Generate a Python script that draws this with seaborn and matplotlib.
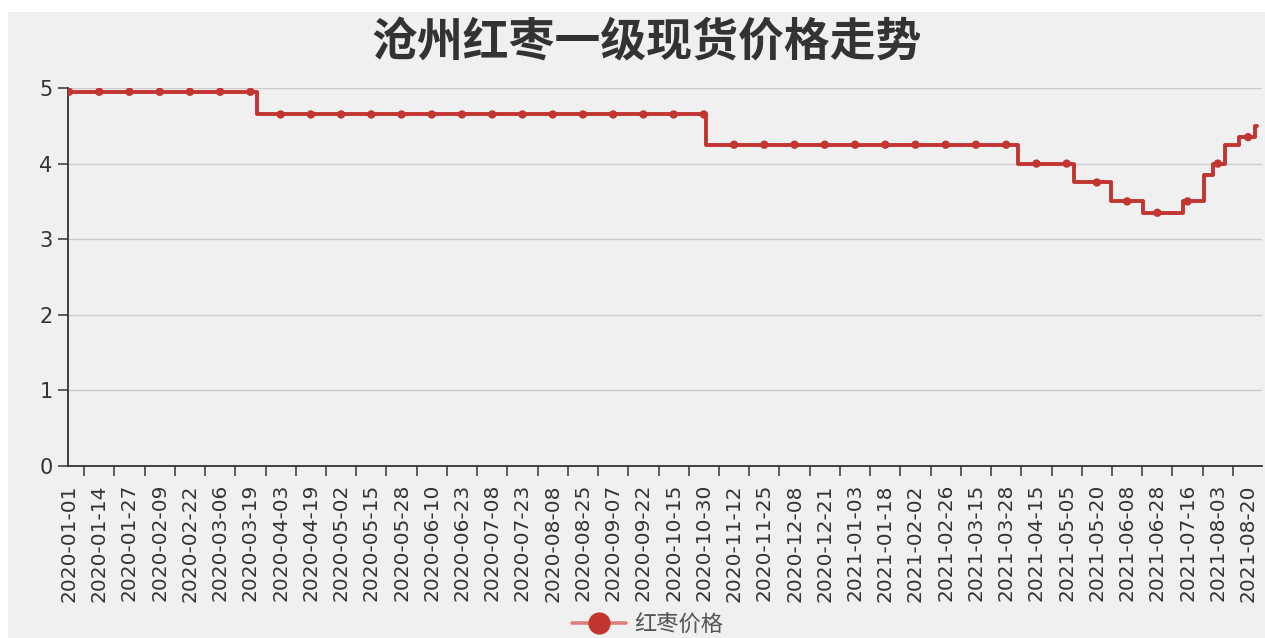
import numpy as np
import pandas as pd
import matplotlib
matplotlib.use("Agg")
import matplotlib.pyplot as plt
import seaborn as sns
from matplotlib.lines import Line2D
from matplotlib.patches import Rectangle

# ---------------- data ----------------
title = "沧州红枣一级现货价格走势"
series_name = "红枣价格"

# dates shown as axis labels (every 13th category of the category axis)
label_dates = [
    "2020-01-01", "2020-01-14", "2020-01-27", "2020-02-09", "2020-02-22",
    "2020-03-06", "2020-03-19", "2020-04-03", "2020-04-19", "2020-05-02",
    "2020-05-15", "2020-05-28", "2020-06-10", "2020-06-23", "2020-07-08",
    "2020-07-23", "2020-08-08", "2020-08-25", "2020-09-07", "2020-09-22",
    "2020-10-15", "2020-10-30", "2020-11-12", "2020-11-25", "2020-12-08",
    "2020-12-21", "2021-01-03", "2021-01-18", "2021-02-02", "2021-02-26",
    "2021-03-15", "2021-03-28", "2021-04-15", "2021-05-05", "2021-05-20",
    "2021-06-08", "2021-06-28", "2021-07-16", "2021-08-03", "2021-08-20",
]
label_step = 13

# price series, run-length encoded: price level and number of consecutive days
step_values = [4.95, 4.65, 4.25, 4.0, 3.75, 3.5, 3.35, 3.5, 3.85, 4.0, 4.25, 4.35, 4.5]
step_lengths = [81, 193, 134, 24, 16, 14, 17, 9, 4, 5, 6, 7, 2]

y_ticks = [0, 1, 2, 3, 4, 5]

# ---------------- build table ----------------
prices = np.repeat(step_values, step_lengths)
df = pd.DataFrame({"idx": np.arange(len(prices)), "price": prices})
label_idx = np.arange(len(label_dates)) * label_step
marks = df.iloc[label_idx]

RED = "#c23531"
DARK = "#333333"

sns.set_theme(style="white")
plt.rcParams["font.family"] = ["Noto Sans CJK SC", "DejaVu Sans"]

W, H = 1265, 638
fig = plt.figure(figsize=(W / 100, H / 100), dpi=100, facecolor="white")
fig.patches.append(Rectangle((8 / W, 0), 1, 1 - 12 / H, transform=fig.transFigure,
                             facecolor="#f0f0f0", edgecolor="none", zorder=-10))

ax = fig.add_axes([68 / W, 1 - 466 / H, (1262 - 68) / W, (466 - 88) / H])
ax.set_facecolor("none")

sns.lineplot(data=df, x="idx", y="price", drawstyle="steps-post", color=RED,
             linewidth=2.8, ax=ax, legend=False, zorder=3)
sns.scatterplot(data=marks, x="idx", y="price", color=RED, s=36, edgecolor="none",
                ax=ax, legend=False, zorder=4)

ax.set_xlim(-0.43, 513)
ax.set_ylim(0, 5)
ax.set_yticks(y_ticks)
ax.set_yticklabels([str(v) for v in y_ticks], family="DejaVu Sans")
ax.set_xticks(label_idx)
ax.set_xticklabels(label_dates, rotation=90, ha="center", va="top", family="DejaVu Sans")
ax.set_xticks(label_idx[:-1] + label_step / 2, minor=True)
ax.set_xlabel("")
ax.set_ylabel("")

ax.grid(axis="y", color="#cccccc", linewidth=1)
ax.grid(axis="x", visible=False)
for s in ["top", "right"]:
    ax.spines[s].set_visible(False)
for s in ["left", "bottom"]:
    ax.spines[s].set_color(DARK)
    ax.spines[s].set_linewidth(1.3)

ax.tick_params(axis="y", which="major", left=True, length=7, width=1.1, color=DARK,
               labelsize=15, labelcolor=DARK, pad=4)
ax.tick_params(axis="x", which="major", bottom=True, length=0, labelsize=14.5,
               labelcolor=DARK, pad=13)
ax.tick_params(axis="x", which="minor", bottom=True, length=7, width=1.1, color=DARK)

fig.text(647 / W, 1 - 43 / H, title, ha="center", va="center", fontsize=33,
         fontweight="bold", color=DARK)

handle = Line2D([], [], color="#dd7f7c", linewidth=2.6, marker="o", markersize=15,
                markerfacecolor=RED, markeredgecolor=RED)
fig.legend(handles=[handle], labels=[series_name], loc="center",
           bbox_to_anchor=(648 / W, 1 - 624 / H), frameon=False, fontsize=16,
           labelcolor="#555555", handlelength=2.4, handletextpad=0.4)

fig.savefig("out.png", dpi=100, facecolor=fig.get_facecolor())
